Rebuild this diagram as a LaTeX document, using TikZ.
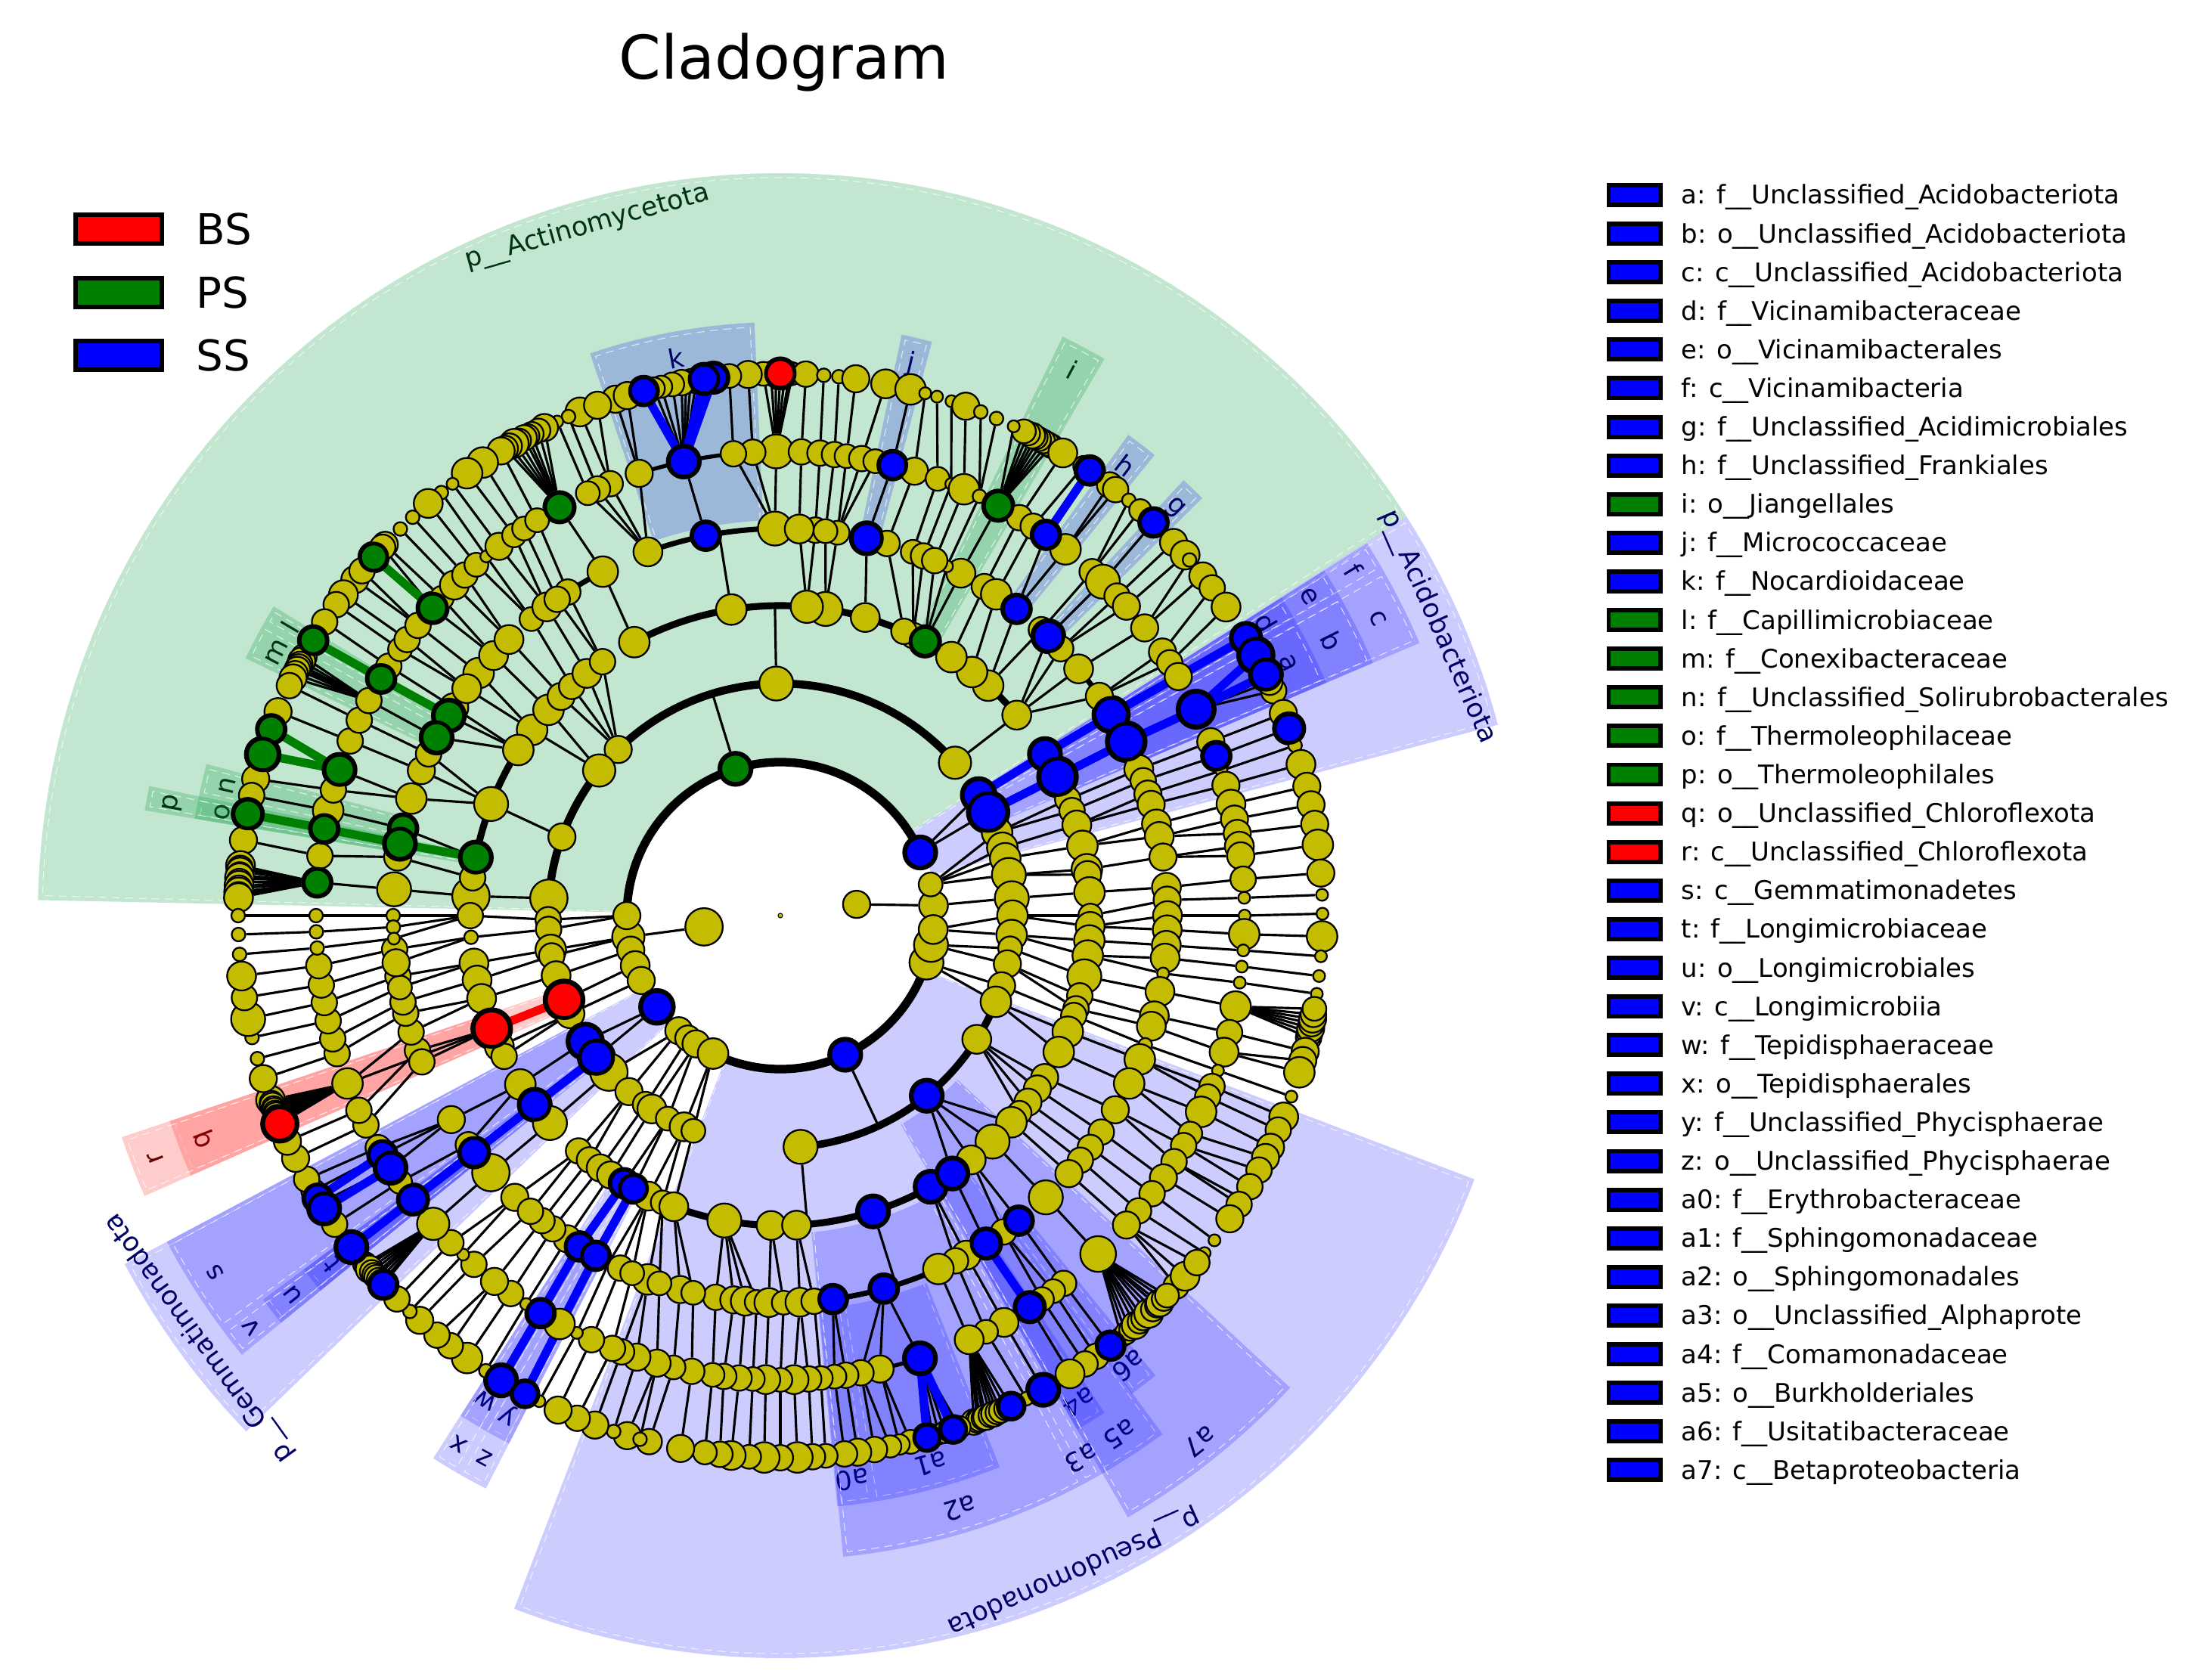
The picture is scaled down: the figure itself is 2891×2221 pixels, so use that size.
\documentclass[tikz,border=0pt]{standalone}
\usepackage{fontspec}
\setmainfont{DejaVu Sans}
\definecolor{cladeyellow}{RGB}{196,188,0}
\definecolor{cladegreen}{RGB}{0,128,0}
\definecolor{sectgreencol}{RGB}{0,151,55}
\definecolor{labblue}{RGB}{0,0,102}
\definecolor{labgreen}{RGB}{0,51,20}
\definecolor{labred}{RGB}{102,0,0}
\pgfdeclarelayer{sectors}
\pgfdeclarelayer{links}
\pgfsetlayers{sectors,links,main}
\tikzset{
  cladenode/.style={circle,draw=black,line width=0.65pt,inner sep=0pt,fill=cladeyellow},
  biomarker/.style={cladenode,line width=1.4pt},
  cladelink/.style={black,line width=0.9pt},
  thicklink/.style={line width=3.2pt},
  sectblue/.style={fill=blue,fill opacity=0.2},
  sectred/.style={fill=red,fill opacity=0.2},
  sectgreen/.style={fill=sectgreencol,fill opacity=0.24},
  sectedge/.style={white,densely dashed,line width=0.3pt,opacity=0.7},
  swatch/.style={draw=black,line width=1.7pt,inner sep=0pt},
}
% parent/{angle in tenths/size,...}, parent -1 has no link of its own
\newcommand{\ringzero}{-1/{84/16,1884/22}}
\newcommand{\ringone}{84/{38/17},1884/{1880/19},
    -1/{243/20,1070/20,1800/16,1930/16,1990/17,2050/16,2165/21,2286/16,2330/15,2367/16,2440/18,2950/20,3422/20,3490/20,3548/17,117/14}}
\newcommand{\ringtwo}{243/{313/21,265/25},117/{210/18,170/18,143/18,101/20},38/{43/20},
    3548/{0/18,3552/18},3490/{3519/14,3480/16},3422/{3424/16,3382/18},
    -1/{412/19,910/20,1343/16,1413/19,1602/16,1757/22,2750/20,3091/20,3278/17},
    1800/{1810/15,1834/15},1880/{1885/18,1900/15},1930/{1950/17},1990/{2013/24},2050/{2050/17},
    2165/{2128/22,2176/22},2286/{2224/22,2293/16},2330/{2345/15},2367/{2364/17,2410/14},2440/{2455/17,2480/14}}
\newcommand{\ringthree}{313/{314/20},265/{266/24},210/{220/15,198/15},170/{170/17},143/{130/18},101/{86/18,76/16},43/{43/18},
    0/{0/14,3580/17},3552/{3554/18,3526/18},3519/{3487/20},3480/{3450/15,3425/15},3424/{3412/15},3382/{3380/18,3339/18},
    3278/{3285/16,3260/16,3230/16,3205/14},3091/{3182/18,3132/20,3080/17,3037/20},
    412/{403/17},1602/{1589/20},1413/{1432/18,1384/18},1343/{1350/16,1323/15,1286/17,1250/15},1757/{1764/22},
    -1/{479/18,518/18,565/18,622/19,646/15,665/15,741/17,816/20,851/19,991/18,1181/18,1477/18,1692/20,1730/15,2596/20,2683/17,2730/17,2874/20,2990/20},
    1810/{1800/15},1834/{1840/8},1885/{1888/17},1900/{1920/17},1950/{1955/17},2013/{2014/24},2050/{2050/17,2070/15},
    2128/{2130/18},2176/{2176/20},2224/{2220/20},2293/{2294/15,2320/15},2345/{2345/16},2364/{2368/16},
    2410/{2397/18,2417/18},2455/{2448/17,2477/14},2480/{2499/17}}
\newcommand{\ringfour}{314/{313/22},266/{267/24},220/{222/17},198/{204/15},170/{183/16,167/16},130/{137/17,118/17},86/{87/16},43/{42/17},
    0/{23/16},3580/{0/17,3579/17},3554/{3556/17},3526/{3537/17,3514/7},3487/{3487/17},3450/{3450/17},3425/{3434/17},3412/{3405/8},
    3380/{3382/18},3339/{3343/18},3285/{3299/16},3260/{3260/15},3230/{3232/15},3205/{3208/15},3182/{3182/16},3132/{3133/20},
    3080/{3080/18,3052/15},3037/{3021/19},2990/{2987/17,2969/15},
    -1/{2778/18,2855/18,2941/18,908/20,1011/18,1100/17},
    2596/{2604/15,2631/16,2648/17,2665/14},2683/{2683/17,2705/14},2730/{2729/17,2750/15},
    2499/{2550/16,2570/14},2477/{2500/18,2518/14},2448/{2437/7,2456/15,2475/14},2417/{2415/18},2397/{2387/18},2368/{2366/16},
    2345/{2340/15},2320/{2320/15},2294/{2267/16,2298/15},2220/{2216/22},2176/{2177/19},2130/{2118/16,2163/15},
    2014/{2004/15,2022/15},1955/{1975/15,1946/15},1920/{1929/15},1888/{1890/15,1907/14},1840/{1850/15,1870/16},1800/{1800/8,1817/8,1834/7},
    1764/{1761/20},1730/{1713/16},1692/{1693/20,1670/18},1589/{1624/18,1580/16,1553/15},1477/{1475/17,1489/20,1526/20},
    1432/{1412/18,1441/17},1384/{1378/17},1350/{1345/17},1323/{1300/14},1286/{1271/17},1250/{1233/15,1252/15},1181/{1173/18},
    851/{848/15,872/17},816/{815/14,833/14},741/{771/20},665/{740/15},646/{700/14,683/15},622/{622/17,645/7,665/15},
    565/{582/15},518/{561/18},479/{524/18,476/15},403/{462/20,436/15,396/17,345/16}}
\newcommand{\ringfive}{908/{905/20,934/15,958/15},1011/{1020/20},1100/{1077/16,1115/15,1132/15,1145/14},1173/{1184/19},
    872/{874/15},848/{851/15},833/{833/15},815/{818/14,799/15,782/14},771/{760/18},740/{732/16},700/{702/14},683/{684/7},665/{667/18},645/{646/8},
    622/{620/19},582/{590/15},561/{570/15},524/{521/18,551/18},476/{478/15},462/{460/20},436/{435/15,418/16},396/{383/16},345/{346/16,330/15},
    313/{310/16},267/{264/23},222/{220/16},204/{201/18},183/{182/7},167/{163/16},137/{139/17},118/{120/16,102/16},87/{86/17,74/16},42/{45/15},23/{22/7},0/{0/7},
    3579/{3577/18},3556/{3557/7},3537/{3537/7},3514/{3517/7},3487/{3487/18},3450/{3454/15},3434/{3429/17},3405/{3405/7},3382/{3384/15,3370/15},
    3343/{3350/18,3320/14},3299/{3303/15,3280/15},3260/{3256/16},3232/{3232/15},3208/{3205/15},3182/{3182/16},3133/{3132/21},3080/{3076/15},
    3052/{3060/14,3043/14},3021/{3025/19},2987/{2988/17},2969/{2963/14},2941/{2940/17},2855/{2875/20,2824/16,2800/15},2778/{2781/15,2767/14},
    2750/{2750/14},2729/{2735/15,2717/17},2705/{2700/14},2683/{2682/17},2665/{2666/14},2648/{2649/15},2631/{2630/15},2604/{2616/14},2570/{2590/15},
    2550/{2567/14},2518/{2546/16},2500/{2520/16,2500/15},2475/{2488/15},2456/{2460/15},2437/{2440/7},2415/{2416/18},2387/{2389/18},2366/{2368/7},
    2340/{2345/15},2320/{2320/16},2298/{2287/15},2267/{2269/7,2248/15},2216/{2216/19},2177/{2177/19},2163/{2150/14},2118/{2129/20,2110/18,2100/15},
    2022/{2068/15},2004/{2048/15},1975/{2012/18},1946/{1973/15},1929/{1954/15},1907/{1931/15},1890/{1908/15},1870/{1886/15},1850/{1862/15},
    1834/{1840/8},1817/{1820/8},1800/{1800/8},1761/{1759/18},1713/{1726/15},1693/{1692/18},1670/{1669/18},1624/{1617/20,1643/15},1580/{1579/15},
    1553/{1551/15},1526/{1524/15},1489/{1493/18},1475/{1475/15},1441/{1450/14,1435/15},1412/{1413/15},1378/{1385/19,1368/14},1345/{1346/17,1328/15},
    1300/{1309/14,1293/7},1271/{1273/16,1250/14},1252/{1235/14},1233/{1216/14}}
\newcommand{\ringsix}{905/{887/13,890/14,895/14,900/19,905/14,910/14,918/14},934/{934/16},958/{954/14},
    1020/{971/19,977/14,981/19,989/13,995/14,1000/13,1005/15,1015/14,1027/13,1035/13,1046/18},1077/{1077/16,1064/16},1115/{1117/17,1097/16},1132/{1130/8},1145/{1143/7},
    1184/{1158/16,1165/14,1173/14,1178/14,1182/15,1188/14,1194/17,1200/15,1205/15},1216/{1210/16},1235/{1233/18},1250/{1253/18},1273/{1272/7},1293/{1287/8},1309/{1305/17},
    1328/{1327/8},1346/{1345/8},1368/{1368/15},1385/{1386/18,1372/15},1413/{1417/16,1405/15},1435/{1437/17},1450/{1450/15},1475/{1472/15},1493/{1495/18},
    1524/{1515/15,1520/16,1524/15,1527/15,1530/15,1535/15,1540/16},1551/{1549/15},1579/{1579/16},1617/{1599/18,1627/21},1643/{1654/16},1669/{1672/15},1692/{1692/19},
    1726/{1720/16},1759/{1747/17,1750/15,1753/16,1757/15,1760/17,1764/15,1768/17,1771/15,1775/17,1778/15,1781/17},
    874/{873/15},851/{854/8},833/{838/8},818/{820/16},799/{788/17},760/{761/18},732/{745/7},702/{732/7},684/{716/7},667/{700/16},646/{683/8,665/8},
    620/{600/14,605/14,610/14,615/14,619/14,623/15,628/14,633/14,645/7},590/{586/17},570/{560/12},551/{552/18},521/{526/15,518/15},478/{500/8,484/13},460/{465/18},
    435/{435/16},418/{417/17},383/{410/8,388/16},346/{372/15},330/{347/17},310/{308/19},264/{264/20,287/22,245/15,255/15},220/{219/16},201/{202/19},
    182/{183/8},163/{162/17},139/{138/16},120/{118/16},102/{97/16},74/{75/18},45/{45/16},22/{22/7},0/{2/7},
    3577/{3578/18},3557/{3557/7},3537/{3536/7},3517/{3517/7},3487/{3470/15,3475/15,3480/16,3485/15,3490/16,3495/15,3501/14},3454/{3455/16},3429/{3445/16,3432/18},3405/{3405/7},
    3384/{3382/17},3370/{3367/15},3350/{3347/16},3320/{3335/16},3303/{3320/15,3300/15},3280/{3285/7,3278/15},3256/{3260/16},3232/{3232/7},3205/{3215/7},
    3182/{3169/15,3183/17,3202/15},3132/{3090/12,3096/13,3102/13,3109/16,3115/14,3120/14,3128/17,3134/14,3140/14,3144/16,3150/14,3155/14},3076/{3075/18},3060/{3056/15},3043/{3042/15},3025/{3023/17},
    2988/{2990/20},2963/{2970/8},2940/{2909/15,2913/14,2916/14,2920/14,2923/15,2928/14,2932/15,2936/14,2940/14,2946/14,2952/17},2875/{2857/17,2863/13,2870/12,2877/13,2886/17,2893/13},
    2824/{2839/14,2827/12},2800/{2817/13,2800/15},2781/{2782/16},2767/{2768/15},2750/{2748/14},2735/{2734/15},2717/{2718/18},2700/{2700/15},2682/{2683/18},
    2666/{2667/14},2649/{2648/17},2630/{2636/15},2616/{2620/14},2590/{2594/16},2567/{2560/15},2546/{2536/16,2550/8},2520/{2521/8},2500/{2500/16},2488/{2480/15},
    2460/{2458/16},2440/{2436/7},2416/{2419/17},2389/{2390/20},2368/{2371/8},2345/{2347/18},2320/{2325/15,2307/15},2287/{2283/16},2269/{2269/8},2248/{2250/15},
    2216/{2200/14,2203/14,2207/16,2211/14,2215/14,2218/14,2222/14,2226/14,2229/18},2177/{2177/20},2150/{2147/15},2129/{2127/20,2120/14},2110/{2114/18,2105/14},2100/{2091/15},2068/{2066/16},2048/{2046/16},
    2012/{1999/17,2002/14,2005/15,2008/14,2010/14,2013/14,2015/14,2018/14,2020/14,2023/14,2026/22},1973/{1975/16},1954/{1953/8},1931/{1930/8},1908/{1910/20},1886/{1887/15},1862/{1864/17},1840/{1841/8},
    1820/{1820/8},1800/{1800/8}}
% level, radius, data
\newcommand{\cladering}[3]{%
  \foreach \pang/\kids in #3 {
    \foreach \ang/\sz in \kids {
      \node[cladenode,minimum size=\sz*0.0225cm] (n#1-\ang) at (\ang/10:#2) {};
    }
  }
}
% parent level, level, data
\newcommand{\cladelinks}[3]{%
  \foreach \pang/\kids in #3 {
    \ifnum\pang<0\relax\else
      \foreach \ang/\sz in \kids {
        \draw[cladelink] (n#1-\pang) -- (n#2-\ang);
      }
    \fi
  }
}
\begin{document}
\begin{tikzpicture}[x=0.01cm,y=0.01cm]
  \useasboundingbox (-1032,-1010) rectangle (1859,1211);

  % shaded clades
  \begin{pgfonlayer}{sectors}
    \foreach \lab/\ai/\af/\ri/\ro/\col/\lr [count=\i] in {
      p\_\_Actinomycetota/32.5/178.8/207/982/green/946,
      p\_\_Acidobacteriota/14.9/32.5/207/982/blue/950,
      p\_\_Pseudomonadota/249/339.2/207/982/blue/950,
      p\_\_Gemmatimonadota/208/224/207/982/blue/950,
      k/92.5/108.7/523/785/blue/750,
      j/75.2/78.2/523/785/blue/750,
      i/59.8/64/421/852/green/819,
      h/50.9/54.1/523/785/blue/750,
      g/44.7/47.2/523/785/blue/750,
      f/29.8/32.4/319/919/blue/885,
      e/29.8/32.4/421/852/blue/817,
      d/29.8/32.4/523/785/blue/750,
      c/23.1/29.8/319/919/blue/883,
      b/23.1/29.8/421/852/blue/815,
      a/23.1/29.8/523/785/blue/750,
      l/148.6/150.5/523/785/green/752,
      m/150.5/154.3/523/785/green/752,
      n/165.2/168.4/523/785/green/751,
      o/168.4/170.6/523/785/green/751,
      p/168.4/170.6/421/852/green/817,
      q/198.6/203.8/421/852/red/817,
      r/198.6/203.8/319/919/red/886,
      s/208/216.6/319/919/blue/884,
      t/216.6/219.2/523/785/blue/752,
      u/216.6/219.2/421/852/blue/817,
      v/216.6/219.2/319/919/blue/886,
      w/237.4/240/523/785/blue/751,
      x/237.4/240/421/852/blue/818,
      y/240/242.8/523/785/blue/752,
      z/240/242.8/421/852/blue/817,
      a0/275.5/279/523/785/blue/752,
      a1/279/291.7/523/785/blue/752,
      a2/275.6/298.1/421/852/blue/819,
      a3/298.1/300/421/852/blue/821,
      a4/300/303.1/523/785/blue/755,
      a5/300/306.4/421/852/blue/820,
      a6/306.3/309.2/523/785/blue/753,
      a7/300/317.2/319/919/blue/890} {
      \pgfmathsetmacro\amid{(\ai+\af)/2}
      \pgfmathsetmacro\arot{\amid-90}
      \pgfmathsetmacro\bi{\ai+6/\ro*57.3}
      \pgfmathsetmacro\bf{\af-6/\ro*57.3}
      \pgfmathsetmacro\rb{\ro-6}
      \fill[sect\col] (\ai:\ri) arc[start angle=\ai,end angle=\af,radius=\ri]
        -- (\af:\ro) arc[start angle=\af,end angle=\ai,radius=\ro] -- cycle;
      \draw[sectedge] (\bi:\ri) -- (\bi:\rb) arc[start angle=\bi,end angle=\bf,radius=\rb] -- (\bf:\ri);
      \node[text=lab\col,rotate=\arot,inner sep=0pt,font=\fontsize{10}{12}\selectfont] (clade\i) at (\amid:\lr) {\lab};
    }
  \end{pgfonlayer}

  % tree, ring by ring
  \node[cladenode,minimum size=0.06cm,line width=0.3pt] (root) at (0,0) {};
  \cladering{0}{102}{\ringzero}
  \cladering{1}{203}{\ringone}
  \cladering{2}{307}{\ringtwo}
  \cladering{3}{410}{\ringthree}
  \cladering{4}{512}{\ringfour}
  \cladering{5}{614}{\ringfive}
  \cladering{6}{717}{\ringsix}

  % biomarkers on top of the yellow nodes
  \foreach \lv/\ang/\sz/\col in {
    1/243/20/blue,1/1070/20/cladegreen,1/2165/21/blue,1/2950/20/blue,
    2/313/21/blue,2/265/25/blue,2/2013/24/red,2/2128/22/blue,2/2176/22/blue,2/3091/20/blue,
    3/314/20/blue,3/266/24/blue,3/622/19/cladegreen,3/1692/20/cladegreen,3/2014/24/red,3/2176/20/blue,3/2397/18/blue,3/2417/18/blue,3/2874/20/blue,3/2990/20/blue,3/3037/20/blue,
    4/313/22/blue,4/267/24/blue,4/462/20/blue,4/524/18/blue,4/771/20/blue,4/1011/18/blue,4/1489/20/cladegreen,4/1526/20/cladegreen,4/1670/18/cladegreen,4/1693/20/cladegreen,
    4/2177/19/blue,4/2387/18/blue,4/2415/18/blue,4/2778/18/blue,4/2855/18/blue,4/3021/19/blue,4/3080/18/blue,
    5/264/23/blue,5/201/18/blue,5/551/18/blue,5/620/19/cladegreen,5/760/18/blue,5/1020/20/blue,5/1184/19/cladegreen,5/1385/19/cladegreen,5/1493/18/cladegreen,5/1617/20/cladegreen,
    5/1692/18/cladegreen,5/1759/18/cladegreen,5/2110/18/blue,5/2129/20/blue,5/2177/19/blue,5/2389/18/blue,5/2875/20/blue,5/3025/19/blue,
    6/308/19/blue,6/287/22/blue,6/264/20/blue,6/202/19/blue,6/552/18/blue,6/465/18/blue,6/971/19/blue,6/981/19/blue,6/1046/18/blue,6/900/19/red,6/1386/18/cladegreen,6/1495/18/cladegreen,
    6/1599/18/cladegreen,6/1627/21/cladegreen,6/1692/19/cladegreen,6/2026/22/red,6/2114/18/blue,6/2127/20/blue,6/2177/20/blue,6/2229/18/blue,6/2390/20/blue,6/2419/17/blue,
    6/2857/17/blue,6/2886/17/blue,6/2952/17/blue,6/2990/20/blue,6/3075/18/blue} {
    \node[biomarker,fill=\col,minimum size=\sz*0.02cm] (m\lv-\ang) at (n\lv-\ang) {};
  }

  \begin{pgfonlayer}{links}
    \cladelinks{0}{1}{\ringone}
    \cladelinks{1}{2}{\ringtwo}
    \cladelinks{2}{3}{\ringthree}
    \cladelinks{3}{4}{\ringfour}
    \cladelinks{4}{5}{\ringfive}
    \cladelinks{5}{6}{\ringsix}
    % arcs through the siblings
    \foreach \rr/\ai/\af/\wd in {203/24.3/342.2/3.2,307/41.2/175.7/3,307/275/338.2/2.8,410/40.3/118.1/2.6,410/147.7/176.4/2.6,410/249.9/318.2/2.6,
      512/90.8/110/2,512/117.3/123.3/2,512/277.8/294.1/2,512/34.5/39.6/2,614/90.5/107.7/1.5,614/282.4/287.5/1.5} {
      \draw[line width=\wd pt] (\ai:\rr) arc[start angle=\ai,end angle=\af,radius=\rr];
    }
    % parent down to the arc of its children
    \foreach \lv/\ang/\rr in {1/1070/307,1/2950/307,2/910/410,2/2750/410,3/991/512,3/2874/512} {
      \coordinate (s\lv-\ang) at (\ang/10:\rr);
      \draw[cladelink] (n\lv-\ang) -- (s\lv-\ang);
    }
    \draw[cladelink] (n3-2014) -- (n5-2012);
    % coloured branches
    \foreach \u/\v in {m2-313/m3-314,m2-265/m3-266,m3-314/m4-313,m3-266/m4-267,m4-267/m5-264,m5-264/m6-264,m5-264/m6-287,m4-313/m6-308,
      m5-1020/m6-981,m5-1020/m6-971,m5-1020/m6-1046,m5-551/m6-552,m5-2129/m6-2127,m5-2110/m6-2114,
      m2-2176/m3-2176,m3-2176/m4-2177,m4-2177/m5-2177,m5-2177/m6-2177,m3-2397/m4-2387,m4-2387/m5-2389,m5-2389/m6-2390,
      m3-2417/m4-2415,m4-2415/m6-2419,m5-2875/m6-2857,m5-2875/m6-2886,m4-3021/m5-3025} {
      \draw[thicklink,blue] (\u) -- (\v);
    }
    \foreach \u/\v in {m3-1692/m4-1693,m4-1693/m5-1692,m5-1692/m6-1692,m4-1489/m5-1493,m5-1493/m6-1495,m5-1617/m6-1627,m5-1617/m6-1599,m5-1385/m6-1386} {
      \draw[thicklink,cladegreen] (\u) -- (\v);
    }
    \draw[thicklink,red] (m2-2013) -- (m3-2014);
  \end{pgfonlayer}

  % title and class legend
  \node[font=\fontsize{22.7}{27}\selectfont] (title) at (5,1129) {Cladogram};
  \foreach \cls/\col/\yy in {BS/red/908,PS/cladegreen/824,SS/blue/741} {
    \node[swatch,fill=\col,minimum width=1.14cm,minimum height=0.38cm] (box\cls) at (-875,\yy) {};
    \node[anchor=base west,inner sep=0pt,font=\fontsize{16}{19}\selectfont] (txt\cls) at (-773,\yy-21) {\cls};
  }

  % clade legend
  \foreach \txt/\col [count=\i from 0] in {
    a: f\_\_Unclassified\_Acidobacteriota/blue,
    b: o\_\_Unclassified\_Acidobacteriota/blue,
    c: c\_\_Unclassified\_Acidobacteriota/blue,
    d: f\_\_Vicinamibacteraceae/blue,
    e: o\_\_Vicinamibacterales/blue,
    f: c\_\_Vicinamibacteria/blue,
    g: f\_\_Unclassified\_Acidimicrobiales/blue,
    h: f\_\_Unclassified\_Frankiales/blue,
    i: o\_\_Jiangellales/cladegreen,
    j: f\_\_Micrococcaceae/blue,
    k: f\_\_Nocardioidaceae/blue,
    l: f\_\_Capillimicrobiaceae/cladegreen,
    m: f\_\_Conexibacteraceae/cladegreen,
    n: f\_\_Unclassified\_Solirubrobacterales/cladegreen,
    o: f\_\_Thermoleophilaceae/cladegreen,
    p: o\_\_Thermoleophilales/cladegreen,
    q: o\_\_Unclassified\_Chloroflexota/red,
    r: c\_\_Unclassified\_Chloroflexota/red,
    s: c\_\_Gemmatimonadetes/blue,
    t: f\_\_Longimicrobiaceae/blue,
    u: o\_\_Longimicrobiales/blue,
    v: c\_\_Longimicrobiia/blue,
    w: f\_\_Tepidisphaeraceae/blue,
    x: o\_\_Tepidisphaerales/blue,
    y: f\_\_Unclassified\_Phycisphaerae/blue,
    z: o\_\_Unclassified\_Phycisphaerae/blue,
    a0: f\_\_Erythrobacteraceae/blue,
    a1: f\_\_Sphingomonadaceae/blue,
    a2: o\_\_Sphingomonadales/blue,
    a3: o\_\_Unclassified\_Alphaprote/blue,
    a4: f\_\_Comamonadaceae/blue,
    a5: o\_\_Burkholderiales/blue,
    a6: f\_\_Usitatibacteraceae/blue,
    a7: c\_\_Betaproteobacteria/blue} {
    \pgfmathsetmacro\yy{953-51.1*\i}
    \node[swatch,fill=\col,minimum width=0.68cm,minimum height=0.26cm] (key\i) at (1129.5,\yy) {};
    \node[anchor=base west,inner sep=0pt,font=\fontsize{9.65}{12}\selectfont] (name\i) at (1191,\yy-12) {\txt};
  }
\end{tikzpicture}
\end{document}
